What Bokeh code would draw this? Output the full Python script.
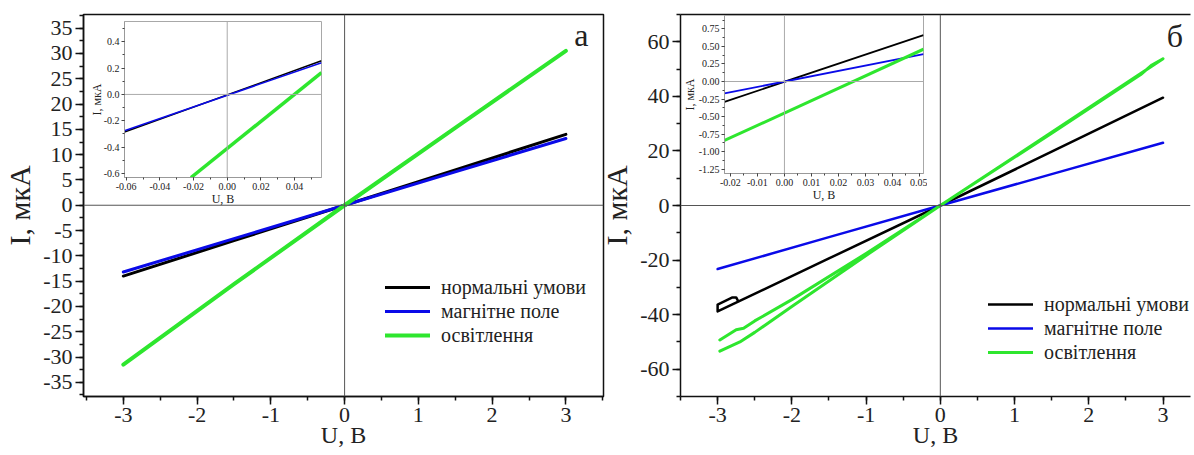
from bokeh.plotting import figure
from bokeh.models import (Range1d, SingleIntervalTicker, Span, Legend, LegendItem, Label,
                          LinearAxis, GridBox, NumeralTickFormatter)
from bokeh.embed import file_html
from bokeh.resources import INLINE

SERIF = "Liberation Serif"

series_names = ["нормальні умови", "магнітне поле", "освітлення"]
series_colors = ["#000000", "#0a0ae8", "#2ee62e"]

# ---------- panel а : main ----------
a_u_norm = [-3.0, -1.5, 0.0, 1.5, 3.0]
a_i_norm = [-14.0, -7.0, 0.0, 7.0, 14.0]
a_u_magn = [-3.0, -1.5, 0.0, 1.5, 3.0]
a_i_magn = [-13.2, -6.6, 0.0, 6.6, 13.2]
a_u_light = [-3.0, -1.5, 0.0, 1.5, 3.0]
a_i_light = [-31.5, -15.6, 0.0, 15.3, 30.5]

# ---------- panel а : inset ----------
ai_u_norm = [-0.061, 0.056]
ai_i_norm = [-0.285, 0.255]
ai_u_magn = [-0.061, 0.056]
ai_i_magn = [-0.275, 0.24]
ai_u_light = [-0.0215, 0.056]
ai_i_light = [-0.63, 0.165]

# ---------- panel б : main ----------
b_u_norm = [3.0, 1.5, 0.0, -1.5, -3.0, -3.0, -2.8, -2.75, -2.72]
b_i_norm = [39.5, 19.7, 0.0, -19.4, -38.8, -36.3, -33.7, -33.7, -35.2]
b_u_magn = [-3.0, -1.5, 0.0, 1.5, 3.0]
b_i_magn = [-23.3, -11.6, 0.0, 11.5, 23.0]
b_u_light = [-2.97, -2.75, -2.65, -2.5, -2.0, -1.0, 0.0, 1.5, 2.7, 2.85, 3.0,
             1.5, 0.0, -1.0, -2.0, -2.5, -2.7, -2.97]
b_i_light = [-49.3, -45.5, -45.0, -42.3, -34.5, -17.6, 0.0, 26.5, 48.0, 51.5, 53.8,
             26.8, 0.0, -18.3, -37.0, -46.5, -50.0, -53.4]

# ---------- panel б : inset ----------
bi_u_norm = [-0.0222, 0.0515]
bi_i_norm = [-0.29, 0.66]
bi_u_magn = [-0.0222, 0.0515]
bi_i_magn = [-0.17, 0.39]
bi_u_light = [-0.0222, 0.0515]
bi_i_light = [-0.84, 0.46]


def style_axes(p, xint, yint, tick_font, label_font, tick_out, minor_out, axis_color,
               tick_color, lw, y_label_standoff, x_label_standoff, xfmt, yfmt, ystand):
    p.xaxis.ticker = SingleIntervalTicker(interval=xint, num_minor_ticks=2)
    p.yaxis.ticker = SingleIntervalTicker(interval=yint, num_minor_ticks=2)
    p.xaxis.formatter = NumeralTickFormatter(format=xfmt)
    p.yaxis.formatter = NumeralTickFormatter(format=yfmt)
    for ax in (p.xaxis[0], p.yaxis[0]):
        ax.axis_line_color = axis_color
        ax.axis_line_width = lw
        ax.major_tick_line_color = tick_color
        ax.minor_tick_line_color = tick_color
        ax.major_tick_line_width = lw
        ax.minor_tick_line_width = lw
        ax.major_tick_in = 0
        ax.major_tick_out = tick_out
        ax.minor_tick_in = 0
        ax.minor_tick_out = minor_out
        ax.major_label_text_font = SERIF
        ax.major_label_text_font_size = tick_font
        ax.major_label_text_color = "#222222"
        ax.axis_label_text_font = SERIF
        ax.axis_label_text_font_style = "normal"
        ax.axis_label_text_color = "#222222"
        ax.major_label_standoff = ystand
    p.xaxis.axis_label_text_font_size = label_font[0]
    p.yaxis.axis_label_text_font_size = label_font[1]
    p.xaxis.axis_label = "U, В"
    p.yaxis.axis_label = "I, мкА"
    p.yaxis.axis_label_standoff = y_label_standoff
    p.xaxis.axis_label_standoff = x_label_standoff
    p.grid.visible = False


def main_figure(width, x_range, y_range, borders, yint, letter, letter_pos,
                data, widths, legend_loc, full_outline):
    left, right, top, bottom = borders
    p = figure(width=width, height=455, x_range=Range1d(*x_range), y_range=Range1d(*y_range),
               output_backend="svg", toolbar_location=None,
               min_border_left=left, min_border_right=right,
               min_border_top=top, min_border_bottom=bottom)
    p.background_fill_color = "white"
    p.border_fill_alpha = 0
    style_axes(p, 1, yint, "22px", ("24px", "30px"), 8, 4, "#111111", "#111111", 1.5,
               4, -3, "0", "0", 3)
    if full_outline:
        p.outline_line_color = "#111111"
        p.outline_line_width = 1.5
    else:
        p.outline_line_color = None
        top_axis = LinearAxis(ticker=[], major_label_text_font_size="0px",
                              axis_line_color="#111111", axis_line_width=1.5)
        p.add_layout(top_axis, "above")
    p.add_layout(Span(location=0, dimension="width", line_color="#555555", line_width=1))
    p.add_layout(Span(location=0, dimension="height", line_color="#555555", line_width=1))
    items = []
    for (u, i), name, col, w in zip(data, series_names, series_colors, widths):
        r = p.line(u, i, line_color=col, line_width=w, line_join="round", line_cap="round")
        items.append(LegendItem(label=name, renderers=[r]))
    legend = Legend(items=items, location=legend_loc, label_text_font=SERIF,
                    label_text_font_size="20px", label_text_color="#222222",
                    glyph_width=45, glyph_height=24, label_height=24, label_standoff=11,
                    spacing=0, padding=0, margin=0, border_line_color=None,
                    background_fill_alpha=0)
    p.add_layout(legend)
    p.add_layout(Label(x=letter_pos[0], y=letter_pos[1], text=letter, text_font=SERIF,
                       text_font_size="32px", text_align="center", text_baseline="middle",
                       text_color="#222222"))
    return p


def inset_figure(fw, fh, x_range, y_range, borders, xint, yint, xfmt, yfmt, data, widths,
                 ylab_standoff):
    left, right, top, bottom = borders
    p = figure(frame_width=fw, frame_height=fh, x_range=Range1d(*x_range),
               y_range=Range1d(*y_range), output_backend="svg", toolbar_location=None,
               min_border_left=left, min_border_right=right,
               min_border_top=top, min_border_bottom=bottom)
    p.background_fill_color = "white"
    p.border_fill_alpha = 0
    style_axes(p, xint, yint, "10px", ("12px", "12px"), 3, 2, "#999999", "#444444", 1,
               ylab_standoff, -1, xfmt, yfmt, 2)
    p.outline_line_color = "#a8a8a8"
    p.outline_line_width = 1
    p.add_layout(Span(location=0, dimension="width", line_color="#aaaaaa", line_width=1))
    p.add_layout(Span(location=0, dimension="height", line_color="#aaaaaa", line_width=1))
    for (u, i), col, w in zip(data, series_colors, widths):
        p.line(u, i, line_color=col, line_width=w)
    return p


pa = main_figure(605, (-3.54, 3.51), (-37.8, 37.7), (81, 2, 14, 58), 5, "а", (3.21, 33.6),
                 [(a_u_norm, a_i_norm), (a_u_magn, a_i_magn), (a_u_light, a_i_light)],
                 [3, 3, 4], (302, 49), True)
ia = inset_figure(197, 156, (-0.061, 0.056), (-0.63, 0.553), (35, 4, 3, 22),
                  0.02, 0.2, "0.00", "0.0",
                  [(ai_u_norm, ai_i_norm), (ai_u_magn, ai_i_magn), (ai_u_light, ai_i_light)],
                  [1.5, 1.5, 3.5], -3)

pb = main_figure(597, (-3.50, 3.37), (-70, 70), (80, 0, 12, 59), 20, "б", (3.16, 62),
                 [(b_u_norm, b_i_norm), (b_u_magn, b_i_magn), (b_u_light, b_i_light)],
                 [2.5, 2.5, 3], (308, 32), False)
ib = inset_figure(199, 158, (-0.0222, 0.0515), (-1.31, 0.94), (40, 4, 2, 22),
                  0.01, 0.25, "0.00", "0.00",
                  [(bi_u_norm, bi_i_norm), (bi_u_magn, bi_i_magn), (bi_u_light, bi_i_light)],
                  [1.8, 1.8, 3], -1)

layout = GridBox(children=[(pa, 0, 0, 3, 3), (pb, 0, 2, 3, 3), (ia, 2, 1, 1, 1), (ib, 1, 4, 2, 1)],
                 rows=["13px", "5px", "auto"],
                 cols=["86px", "511px", "8px", "74px", "auto"], spacing=0)

with open("out.html", "w") as f:
    f.write(file_html(layout, INLINE))
